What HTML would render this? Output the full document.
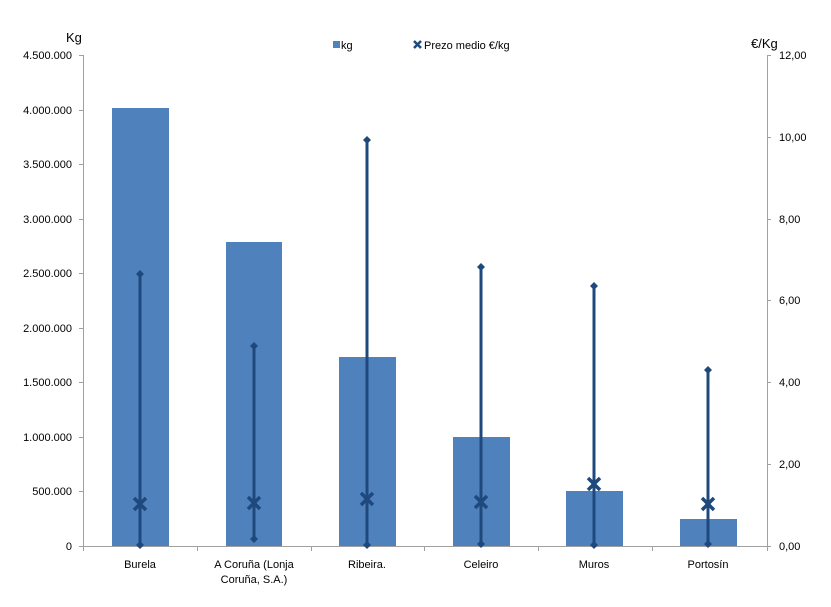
<!DOCTYPE html>
<html><head><meta charset="utf-8"><style>body{margin:0;background:#fff}svg{display:block}text{font-family:"Liberation Sans",sans-serif;fill:#000}</style></head><body>
<svg width="831" height="607" viewBox="0 0 831 607" xmlns="http://www.w3.org/2000/svg">
<g stroke="#a0a0a0" stroke-width="1" fill="none">
<line x1="83.5" y1="55" x2="83.5" y2="547"/>
<line x1="767.5" y1="55" x2="767.5" y2="547"/>
<line x1="83" y1="546.5" x2="767" y2="546.5"/>
<path d="M79 55.5h4M79 110.5h4M79 164.5h4M79 219.5h4M79 273.5h4M79 328.5h4M79 382.5h4M79 437.5h4M79 491.5h4M79 546.5h4"/>
<path d="M767 55.5h4M767 137.5h4M767 219.5h4M767 300.5h4M767 382.5h4M767 464.5h4M767 546.5h4"/>
<path d="M83.5 546v5M197.5 546v5M311.5 546v5M424.5 546v5M538.5 546v5M652.5 546v5M767.5 546v5"/>
</g>
<g fill="#4f81bd">
<rect x="112" y="108" width="57" height="438"/>
<rect x="226" y="242" width="56" height="304"/>
<rect x="339" y="357" width="57" height="189"/>
<rect x="453" y="437" width="57" height="109"/>
<rect x="566" y="491" width="57" height="55"/>
<rect x="680" y="519" width="57" height="27"/>
</g>
<g stroke="#1f497d" stroke-width="3" fill="#1f497d">
<line x1="140" y1="546" x2="140" y2="274"/>
<line x1="254" y1="539" x2="254" y2="346"/>
<line x1="367" y1="546" x2="367" y2="140"/>
<line x1="481" y1="544" x2="481" y2="267"/>
<line x1="594" y1="546" x2="594" y2="286"/>
<line x1="708" y1="544" x2="708" y2="370"/>
</g>
<g fill="#1f497d">
<path d="M140 270l4 4-4 4-4-4z M140 541l4 4-4 4-4-4z M254 342l4 4-4 4-4-4z M254 535l4 4-4 4-4-4z M367 136l4 4-4 4-4-4z M367 541l4 4-4 4-4-4z M481 263l4 4-4 4-4-4z M481 540l4 4-4 4-4-4z M594 282l4 4-4 4-4-4z M594 541l4 4-4 4-4-4z M708 366l4 4-4 4-4-4z M708 540l4 4-4 4-4-4z"/>
</g>
<g stroke="#1f497d" stroke-width="3.5">
<path d="M134 498l12 12M146 498l-12 12"/>
<path d="M248 497l12 12M260 497l-12 12"/>
<path d="M361 493l12 12M373 493l-12 12"/>
<path d="M475 496l12 12M487 496l-12 12"/>
<path d="M588 478l12 12M600 478l-12 12"/>
<path d="M702 498l12 12M714 498l-12 12"/>
<path d="M414 41l7 7M421 41l-7 7" stroke-width="2.5"/>
</g>
<rect x="333" y="41" width="7" height="7" fill="#4f81bd"/>
<g font-size="11">
<text x="341" y="49">kg</text>
<text x="424" y="49">Prezo medio €/kg</text>
</g>
<text x="66" y="42" font-size="13">Kg</text>
<text x="751" y="48" font-size="13">€/Kg</text>
<g font-size="11" text-anchor="end">
<text x="72" y="59">4.500.000</text>
<text x="72" y="114">4.000.000</text>
<text x="72" y="168">3.500.000</text>
<text x="72" y="223">3.000.000</text>
<text x="72" y="277">2.500.000</text>
<text x="72" y="332">2.000.000</text>
<text x="72" y="386">1.500.000</text>
<text x="72" y="441">1.000.000</text>
<text x="72" y="495">500.000</text>
<text x="72" y="550">0</text>
</g>
<g font-size="11">
<text x="779" y="59">12,00</text>
<text x="779" y="141">10,00</text>
<text x="779" y="223">8,00</text>
<text x="779" y="304">6,00</text>
<text x="779" y="386">4,00</text>
<text x="779" y="468">2,00</text>
<text x="779" y="550">0,00</text>
</g>
<g font-size="11" text-anchor="middle">
<text x="140" y="568">Burela</text>
<text x="254" y="568">A Coruña (Lonja</text>
<text x="254" y="583">Coruña, S.A.)</text>
<text x="367" y="568">Ribeira.</text>
<text x="481" y="568">Celeiro</text>
<text x="594" y="568">Muros</text>
<text x="708" y="568">Portosín</text>
</g>
</svg>
</body></html>
